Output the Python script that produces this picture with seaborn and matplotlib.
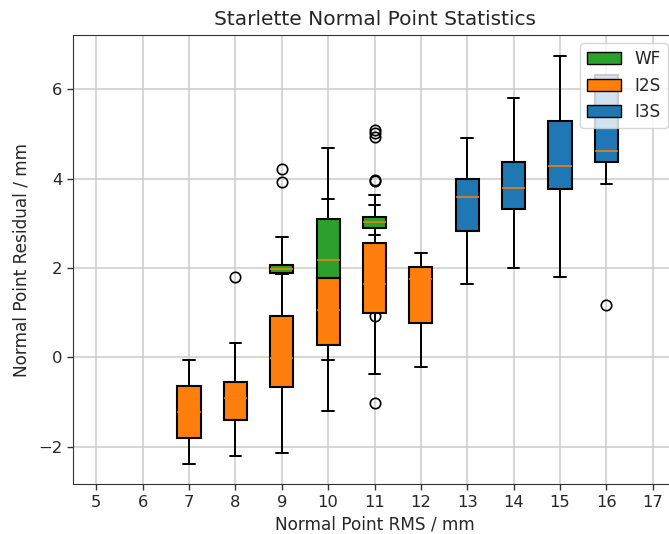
import matplotlib
matplotlib.use("Agg")
import matplotlib.pyplot as plt
from matplotlib.patches import Patch
import seaborn as sns

# box statistics (mm)
wf_pos = [9, 10, 11]
wf_q1 = [1.89, 1.77, 2.89]
wf_med = [1.98, 2.18, 3.02]
wf_q3 = [2.06, 3.10, 3.14]
wf_lo = [1.86, -0.05, 2.74]
wf_hi = [2.70, 4.69, 3.41]
wf_fliers = [[3.93, 4.21], [], [3.94, 3.97, 4.93, 5.01, 5.09, 0.93]]

i2s_pos = [7, 8, 9, 10, 11, 12]
i2s_q1 = [-1.81, -1.40, -0.67, 0.28, 0.99, 0.77]
i2s_med = [-1.22, -0.92, -0.02, 1.05, 1.64, 1.75]
i2s_q3 = [-0.64, -0.56, 0.93, 1.77, 2.55, 2.03]
i2s_lo = [-2.39, -2.21, -2.13, -1.20, -0.38, -0.21]
i2s_hi = [-0.06, 0.33, 1.86, 3.54, 3.64, 2.33]
i2s_fliers = [[], [1.80], [], [], [-1.03], []]

i3s_pos = [13, 14, 15, 16]
i3s_q1 = [2.82, 3.32, 3.77, 4.38]
i3s_med = [3.58, 3.79, 4.27, 4.62]
i3s_q3 = [3.99, 4.38, 5.29, 6.32]
i3s_lo = [1.65, 2.00, 1.79, 3.88]
i3s_hi = [4.91, 5.81, 6.73, 6.32]
i3s_fliers = [[], [], [], [1.16]]

x_ticks = list(range(5, 18))


def make_stats(q1, med, q3, lo, hi, fliers):
    stats = []
    for a, m, b, l, h, f in zip(q1, med, q3, lo, hi, fliers):
        stats.append({'q1': a, 'med': m, 'q3': b, 'whislo': l, 'whishi': h, 'fliers': f})
    return stats


sns.set_style("ticks", {"axes.grid": True, "grid.color": "#cbcbcb", "axes.edgecolor": "#333333"})
plt.rcParams['font.family'] = ['DejaVu Sans']

fig = plt.figure(figsize=(6.69, 5.34), dpi=100)
ax = fig.add_axes([73 / 669, 1 - 484.3 / 534, (676 - 73) / 669, (484.3 - 35) / 534])

groups = [
    (wf_pos, make_stats(wf_q1, wf_med, wf_q3, wf_lo, wf_hi, wf_fliers), 'C2'),
    (i2s_pos, make_stats(i2s_q1, i2s_med, i2s_q3, i2s_lo, i2s_hi, i2s_fliers), 'C1'),
    (i3s_pos, make_stats(i3s_q1, i3s_med, i3s_q3, i3s_lo, i3s_hi, i3s_fliers), 'C0'),
]
for pos, stats, col in groups:
    ax.bxp(stats, positions=pos, widths=0.5, patch_artist=True, manage_ticks=False,
           boxprops=dict(facecolor=col, edgecolor='black', linewidth=1.5, zorder=2),
           whiskerprops=dict(color='black', linewidth=1.4, zorder=1.5),
           capprops=dict(color='black', linewidth=1.4, zorder=1.5),
           medianprops=dict(color='C1', linewidth=1.1),
           flierprops=dict(marker='o', markerfacecolor='none', markeredgecolor='black',
                           markersize=7.5, markeredgewidth=1.2))

ax.set_xlim(4.5, 17.5)
ax.set_ylim(-2.84, 7.21)
ax.set_xticks(x_ticks)
ax.set_xticklabels([str(t) for t in x_ticks])
ax.set_yticks([-2, 0, 2, 4, 6])
ax.grid(True, color='#cbcbcb', linewidth=1.1)
ax.tick_params(labelsize=11.8, length=4.3, width=1.0, color='#333333')

ax.set_title('Starlette Normal Point Statistics', fontsize=14.5, pad=7)
ax.set_xlabel('Normal Point RMS / mm', fontsize=12.2, labelpad=4)
ax.set_ylabel('Normal Point Residual / mm', fontsize=12.2, labelpad=5)

handles = [Patch(facecolor='C2', edgecolor='black', label='WF'),
           Patch(facecolor='C1', edgecolor='black', label='I2S'),
           Patch(facecolor='C0', edgecolor='black', label='I3S')]
ax.legend(handles=handles, loc='upper right', fontsize=12.2, framealpha=0.8)

fig.savefig('out.png', dpi=100)
